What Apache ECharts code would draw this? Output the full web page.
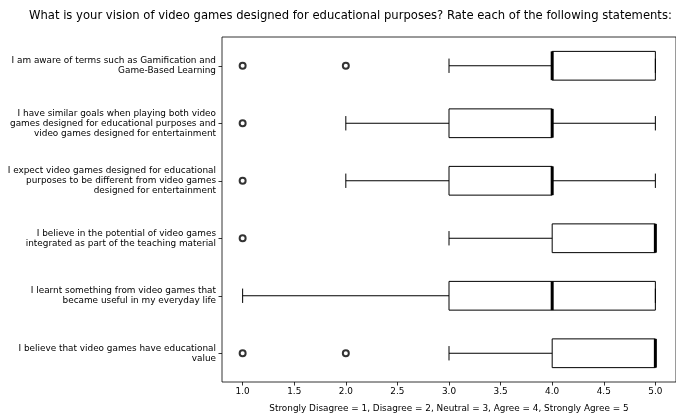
<!DOCTYPE html>
<html>
<head>
<meta charset="utf-8">
<script src="https://cdn.jsdelivr.net/npm/echarts@6/dist/echarts.min.js"></script>
<style>
  html, body { margin: 0; padding: 0; background: #fff; }
  #chart { width: 676px; height: 418px; }
</style>
</head>
<body>
<div id="chart"></div>
<script>
// statements, top to bottom
const statements = [
  'I am aware of terms such as Gamification and\nGame-Based Learning',
  'I have similar goals when playing both video\ngames designed for educational purposes and\nvideo games designed for entertainment',
  'I expect video games designed for educational\npurposes to be different from video games\ndesigned for entertainment',
  'I believe in the potential of video games\nintegrated as part of the teaching material',
  'I learnt something from video games that\nbecame useful in my everyday life',
  'I believe that video games have educational\nvalue'
]
const whiskerLow  = [3, 2, 2, 3, 1, 3]
const q1          = [4, 3, 3, 4, 3, 4]
const medians     = [4, 4, 4, 5, 4, 5]
const q3          = [5, 4, 4, 5, 5, 5]
const whiskerHigh = [5, 5, 5, 5, 5, 5]
const outliers    = [[1, 2], [1], [1], [1], [], [1, 2]]
const xTicks = [1.0, 1.5, 2.0, 2.5, 3.0, 3.5, 4.0, 4.5, 5.0]

const font = 'DejaVu Sans'

let boxData = statements.map((s, i) => [i, whiskerLow[i], q1[i], medians[i], q3[i], whiskerHigh[i]])
let outlierData = []
outliers.forEach((list, i) => {
  list.forEach(v => outlierData.push([v, i]))
})

function renderBox (params, api) {
  const row = api.value(0)
  const lo = api.coord([api.value(1), row])
  const b1 = api.coord([api.value(2), row])
  const med = api.coord([api.value(3), row])
  const b3 = api.coord([api.value(4), row])
  const hi = api.coord([api.value(5), row])
  const band = api.size([0, 1])[1]
  const h = band * 0.5
  const cy = lo[1]
  const line = { stroke: '#000', lineWidth: 1 }
  return {
    type: 'group',
    children: [
      { type: 'rect', shape: { x: b1[0], y: cy - h / 2, width: b3[0] - b1[0], height: h }, style: { fill: '#fff', stroke: '#000', lineWidth: 1 } },
      { type: 'line', shape: { x1: lo[0], y1: cy, x2: b1[0], y2: cy }, style: line },
      { type: 'line', shape: { x1: b3[0], y1: cy, x2: hi[0], y2: cy }, style: line },
      { type: 'line', shape: { x1: lo[0], y1: cy - h / 4, x2: lo[0], y2: cy + h / 4 }, style: line },
      { type: 'line', shape: { x1: hi[0], y1: cy - h / 4, x2: hi[0], y2: cy + h / 4 }, style: line },
      { type: 'line', shape: { x1: med[0], y1: cy - h / 2, x2: med[0], y2: cy + h / 2 }, style: { stroke: '#000', lineWidth: 3 } }
    ]
  }
}

let myChart = echarts.init(document.getElementById('chart'))
let option = {
  animation: false,
  title: {
    text: 'What is your vision of video games designed for educational purposes? Rate each of the following statements:',
    left: 29,
    top: 10,
    padding: 0,
    textStyle: { fontFamily: font, fontSize: 11.6, fontWeight: 'normal', color: '#000' }
  },
  grid: {
    left: 222,
    top: 37,
    width: 455,
    height: 345,
    show: true,
    borderColor: '#000',
    borderWidth: 0.8,
    backgroundColor: 'transparent'
  },
  xAxis: {
    type: 'value',
    min: 0.8,
    max: 5.2,
    splitLine: { show: false },
    axisLine: { show: false },
    axisTick: { show: true, length: 3.5, customValues: xTicks, lineStyle: { color: '#000', width: 0.8 } },
    axisLabel: {
      customValues: xTicks,
      formatter: v => v.toFixed(1),
      fontFamily: font,
      fontSize: 8.9,
      color: '#000',
      margin: 5
    },
    name: 'Strongly Disagree = 1, Disagree = 2, Neutral = 3, Agree = 4, Strongly Agree = 5',
    nameLocation: 'middle',
    nameGap: 22,
    nameTextStyle: { fontFamily: font, fontSize: 8.9, color: '#000' }
  },
  yAxis: {
    type: 'category',
    data: statements,
    inverse: true,
    axisLine: { show: false },
    axisTick: { show: true, alignWithLabel: true, length: 3.5, lineStyle: { color: '#000', width: 0.8 } },
    axisLabel: {
      fontFamily: font,
      fontSize: 8.9,
      lineHeight: 10,
      color: '#000',
      align: 'right',
      margin: 6
    },
    splitLine: { show: false }
  },
  series: [
    {
      type: 'custom',
      renderItem: renderBox,
      encode: { x: [1, 2, 3, 4, 5], y: 0 },
      data: boxData,
      z: 2
    },
    {
      type: 'scatter',
      data: outlierData,
      symbol: 'emptyCircle',
      symbolSize: 6,
      itemStyle: { color: '#000', borderColor: '#000', borderWidth: 0.8 },
      z: 3
    }
  ]
}
myChart.setOption(option)
</script>
</body>
</html>
